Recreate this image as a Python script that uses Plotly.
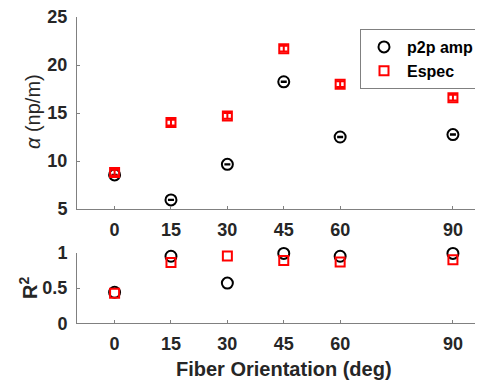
import plotly.graph_objects as go

orient = [0, 15, 30, 45, 60, 90]
alpha_p2p = [8.55, 5.95, 9.65, 18.25, 12.5, 12.75]
alpha_espec = [8.8, 14.0, 14.7, 21.7, 18.0, 16.6]
alpha_p2p_err = [0.05, 0.05, 0.05, 0.05, 0.05, 0.05]
alpha_espec_err = [0.3, 0.3, 0.3, 0.3, 0.3, 0.3]
r2_p2p = [0.44, 0.95, 0.57, 0.99, 0.95, 0.99]
r2_espec = [0.425, 0.86, 0.955, 0.89, 0.87, 0.90]
x_ticks = [0, 15, 30, 45, 60, 90]

# page body has an 8px margin: figure is sized to fill the rest of the window
OFF = 8
W, H = 483 - OFF, 382 - OFF
GRAY = "#808080"
TXT = "#262626"
FONT = "Liberation Sans, Arial, sans-serif"


def px(x):
    return (x - OFF) / W


def py(y):
    return 1 - (y - OFF) / H


fig = go.Figure()
# top panel
fig.add_trace(go.Scatter(
    x=orient, y=alpha_p2p, mode="markers", name="p2p amp",
    marker=dict(symbol="circle-open", size=11, color="black", line=dict(width=2)),
    error_y=dict(type="data", array=alpha_p2p_err, color="black", thickness=1.5, width=3),
    cliponaxis=False, xaxis="x", yaxis="y"))
fig.add_trace(go.Scatter(
    x=orient, y=alpha_espec, mode="markers", name="Espec",
    marker=dict(symbol="square-open", size=9, color="red", line=dict(width=2)),
    error_y=dict(type="data", array=alpha_espec_err, color="red", thickness=2, width=4),
    cliponaxis=False, xaxis="x", yaxis="y"))
# bottom panel
fig.add_trace(go.Scatter(
    x=orient, y=r2_p2p, mode="markers", name="p2p amp", showlegend=False,
    marker=dict(symbol="circle-open", size=11, color="black", line=dict(width=2)),
    cliponaxis=False, xaxis="x2", yaxis="y2"))
fig.add_trace(go.Scatter(
    x=orient, y=r2_espec, mode="markers", name="Espec", showlegend=False,
    marker=dict(symbol="square-open", size=9, color="red", line=dict(width=2)),
    cliponaxis=False, xaxis="x2", yaxis="y2"))

xdom = [px(77), 1.0]
top_dom = [py(209), py(17)]
bot_dom = [py(323.3), py(252.7)]

axis_common = dict(
    showline=True, linecolor=GRAY, linewidth=1, showgrid=False, zeroline=False,
    ticks="inside", ticklen=3, tickcolor=GRAY, tickwidth=1,
    tickfont=dict(family=FONT, size=18, color=TXT, weight="bold"),
    mirror=False, automargin=False, ticklabeloverflow="allow",
)

fig.update_layout(
    width=W, height=H,
    margin=dict(l=0, r=0, t=0, b=0, autoexpand=False),
    paper_bgcolor="white", plot_bgcolor="white",
    showlegend=True,
    xaxis=dict(domain=xdom, range=[-10, 98], tickvals=x_ticks, anchor="y",
               ticklabelstandoff=4, **axis_common),
    yaxis=dict(domain=top_dom, range=[5, 25], tickvals=[5, 10, 15, 20, 25], anchor="x",
               ticklabelstandoff=5, **axis_common),
    xaxis2=dict(domain=xdom, range=[-10, 98], tickvals=x_ticks, anchor="y2",
                ticklabelstandoff=4, **axis_common),
    yaxis2=dict(domain=bot_dom, range=[0, 1], tickvals=[0, 0.5, 1], anchor="x2",
                ticklabelstandoff=5, **axis_common),
    legend=dict(
        x=px(360), y=py(29), xanchor="left", yanchor="top",
        bgcolor="white", bordercolor=GRAY, borderwidth=1,
        font=dict(family=FONT, size=16, color="black", weight="bold"),
        itemwidth=36, tracegroupgap=0,
    ),
    annotations=[
        dict(text="<i>α</i> (np/m)", x=px(33), y=py(112), xref="paper", yref="paper",
             textangle=-90, showarrow=False, xanchor="center", yanchor="middle",
             font=dict(family=FONT, size=20, color=TXT)),
        dict(text="<b>R<sup>2</sup></b>", x=px(28), y=py(288), xref="paper", yref="paper",
             textangle=-90, showarrow=False, xanchor="center", yanchor="middle",
             font=dict(family=FONT, size=20, color=TXT)),
        dict(text="<b>Fiber Orientation (deg)</b>", x=px(284), y=py(369), xref="paper", yref="paper",
             showarrow=False, xanchor="center", yanchor="middle",
             font=dict(family=FONT, size=20, color=TXT)),
    ],
)

fig.write_html("out.html")
